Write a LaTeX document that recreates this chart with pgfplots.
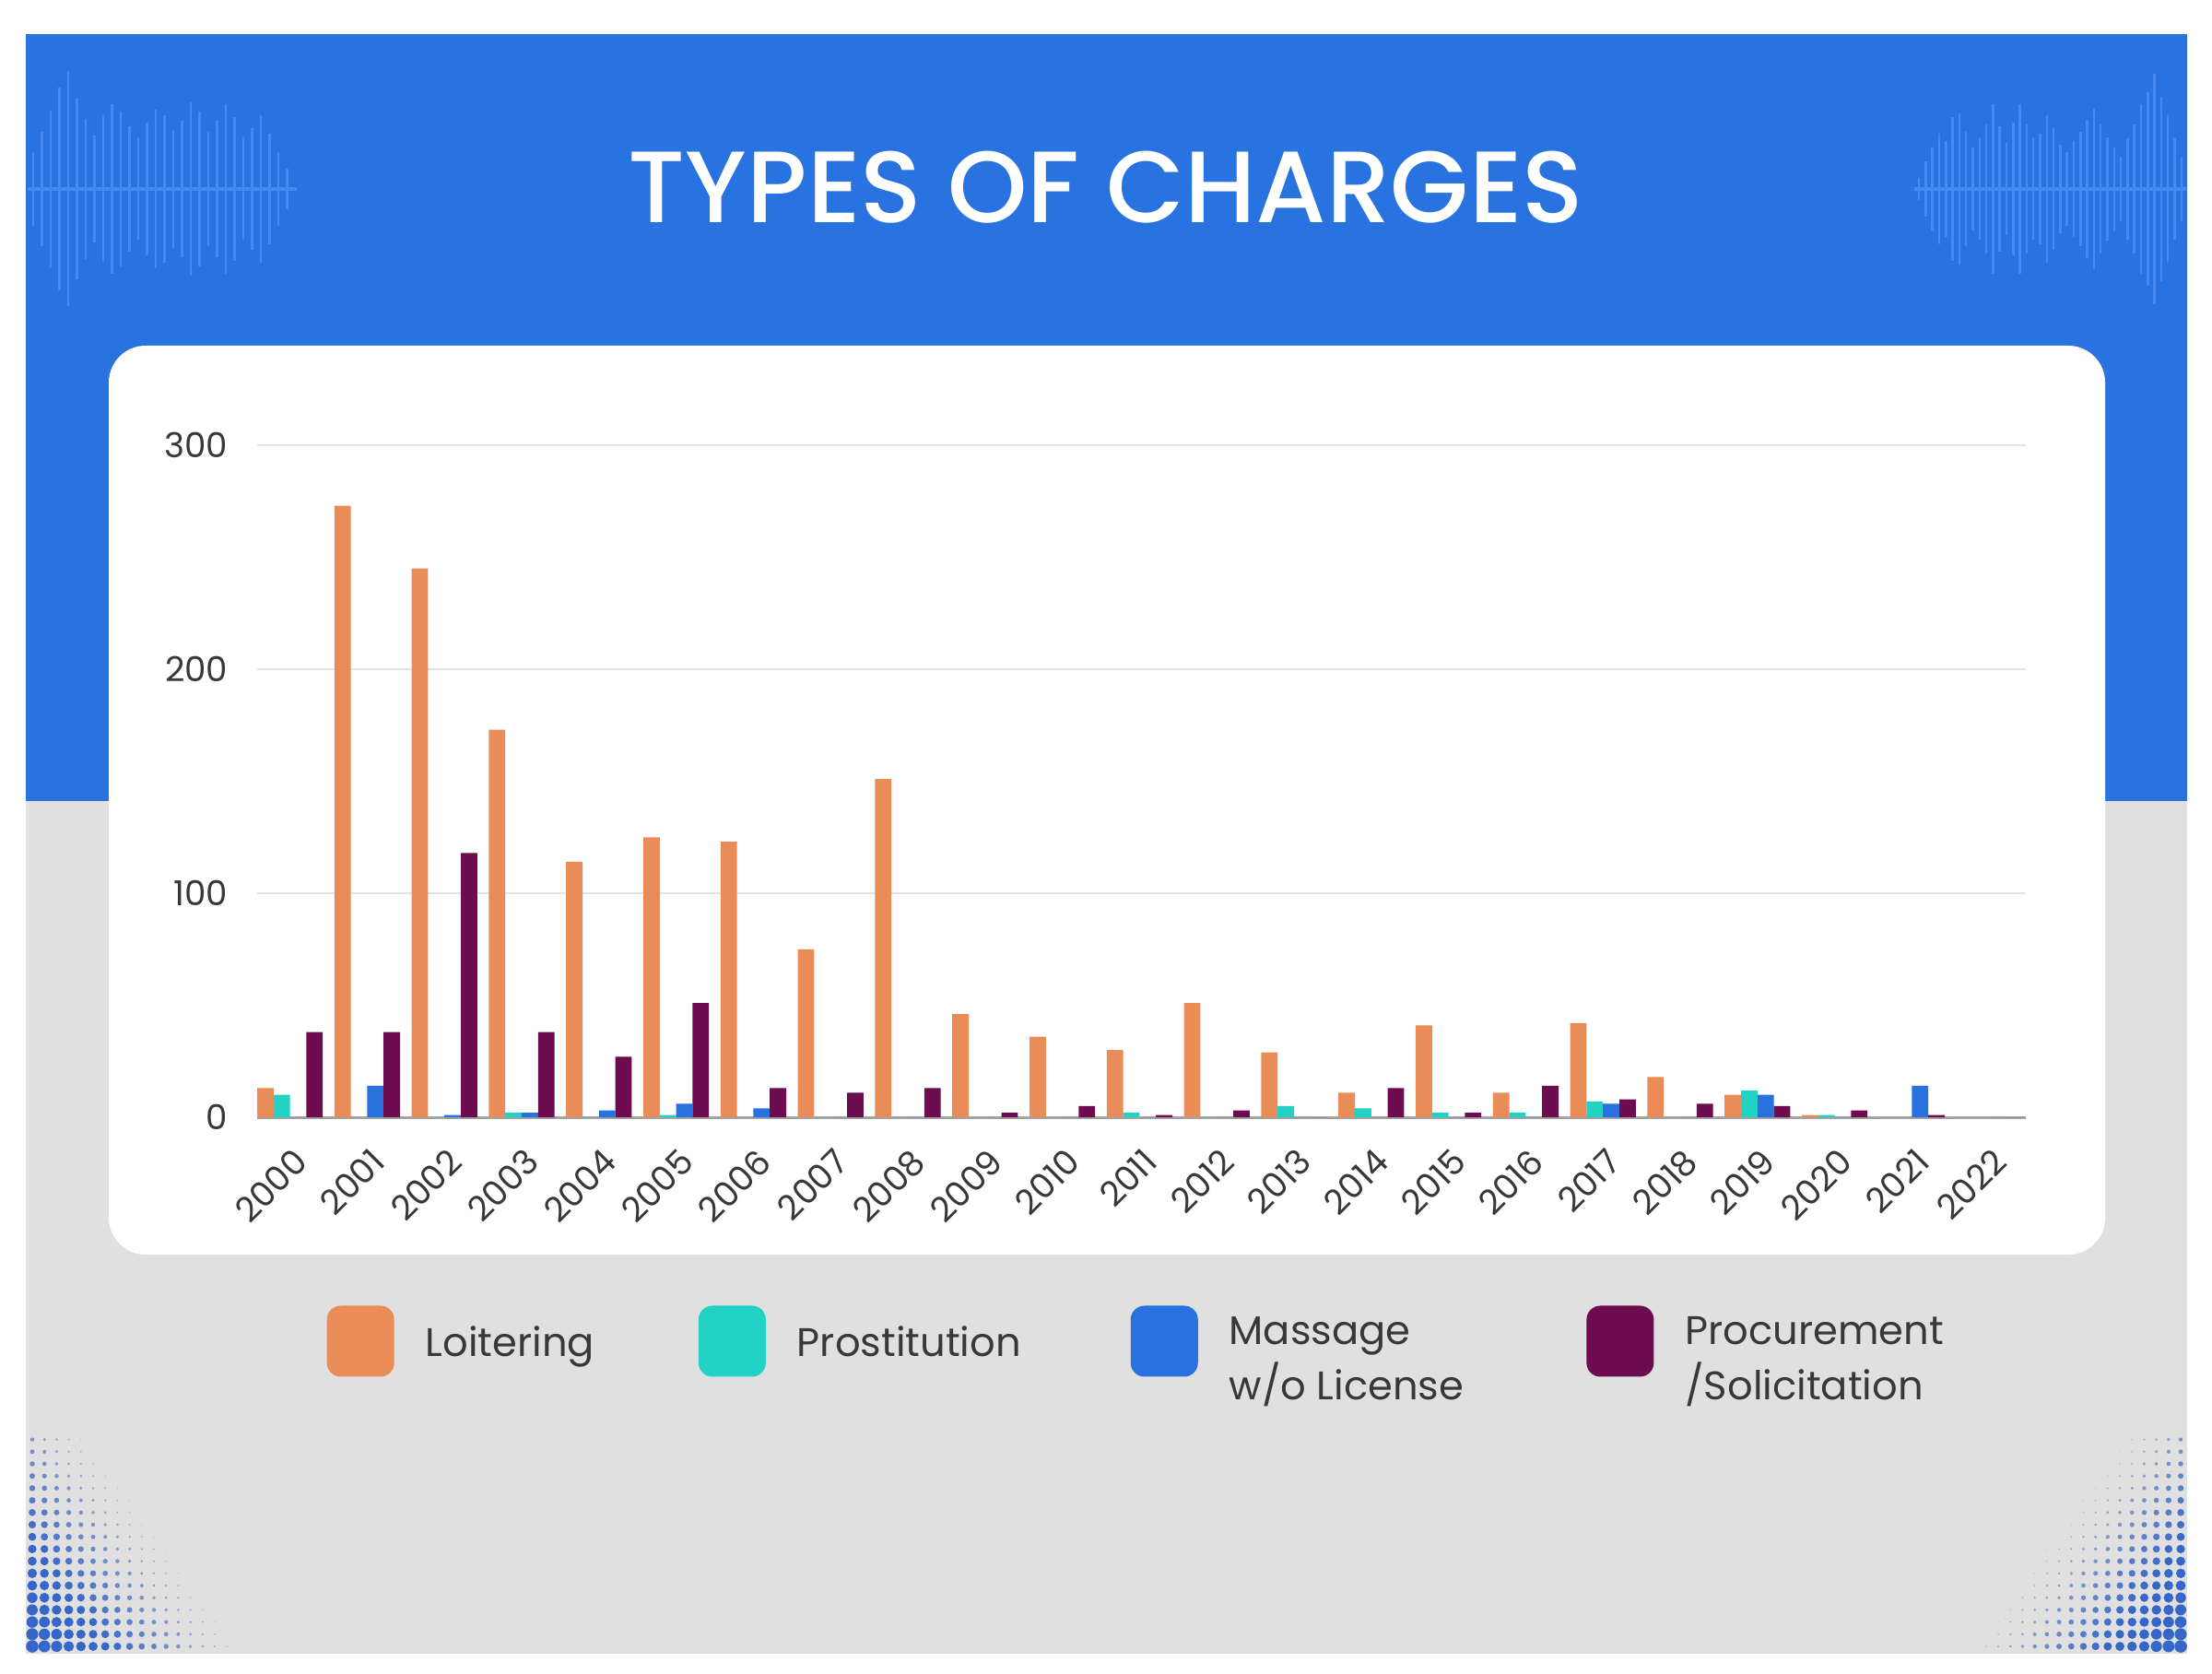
\documentclass[border=0pt]{standalone}
\usepackage{fontspec}
\setmainfont{Poppins}
\newfontfamily\titlefont{Poppins Medium}
\usepackage{pgfplots}
\usepackage{pgfplotstable}
\pgfplotsset{compat=1.18}

\definecolor{bgblue}{HTML}{2873E0}
\definecolor{waveblue}{HTML}{4A8DF6}
\definecolor{bggrey}{HTML}{E0E0E0}
\definecolor{cOrange}{HTML}{EA8C57}
\definecolor{cTeal}{HTML}{22D2C4}
\definecolor{cBlue}{HTML}{2871DE}
\definecolor{cPurple}{HTML}{6D0C4F}
\definecolor{txt}{HTML}{383838}
\definecolor{gridc}{HTML}{E3E3E3}
\definecolor{axisc}{HTML}{A3A3A3}
\definecolor{dotblue}{HTML}{3566C8}
\definecolor{dotgrey}{HTML}{BCC2CD}

\newcommand\tickfont{\fontsize{10.6}{12}\selectfont}
\newcommand\legfont{\fontsize{12.3}{16.9}\selectfont}

\pgfplotsset{myleg/.style={legend image code/.code={%
  \path[##1, draw=none, rounded corners=1.5mm] (0mm,-3.85mm) rectangle (7.3mm,3.85mm);}}}

\pgfplotstableread{
k year loit prost mass proc
0 2000 13 10 0 38
1 2001 273 0 14 38
2 2002 245 0 1 118
3 2003 173 2 2 38
4 2004 114 0 3 27
5 2005 125 1 6 51
6 2006 123 0 4 13
7 2007 75 0 0 11
8 2008 151 0 0 13
9 2009 46 0 0 2
10 2010 36 0 0 5
11 2011 30 2 0 1
12 2012 51 0 0 3
13 2013 29 5 0 0
14 2014 11 4 0 13
15 2015 41 2 0 2
16 2016 11 2 0 14
17 2017 42 7 6 8
18 2018 18 0 0 6
19 2019 10 12 10 5
20 2020 1 1 0 3
21 2021 0 0 14 1
22 2022 0 0 0 0
}\datatable

\begin{document}
\begin{tikzpicture}
\fill[white] (0,0) rectangle (240mm,181.5mm);
\begin{scope}[shift={(0,181.5mm)}, x=0.1mm, y=-0.1mm]
  \fill[bgblue] (28,37) rectangle (2373,869);
  \fill[bggrey] (28,869) rectangle (2373,1794);
  % left sound wave
  \foreach \h [count=\n from 0] in {40,62,85,110,127,98,76,58,80,92,84,68,55,72,86,80,64,74,94,84,62,74,92,78,56,66,80,60,40,22}
    {\draw[waveblue!85!bgblue, line width=0.25mm] ({36+9.5*\n},{205-\h}) -- ({36+9.5*\n},{205+\h});}
  \draw[waveblue!85!bgblue, line width=0.45mm] (30,205) -- (322,205);
  % right sound wave
  \foreach \h [count=\n from 0] in {12,30,45,60,52,78,82,62,45,55,70,92,68,50,72,92,70,55,60,80,66,48,40,52,62,75,87,70,56,45,35,55,70,92,105,125,100,80,55,35}
    {\draw[waveblue!85!bgblue, line width=0.25mm] ({2082+7.3*\n},{205-\h}) -- ({2082+7.3*\n},{205+\h});}
  \draw[waveblue!85!bgblue, line width=0.45mm] (2077,205) -- (2372,205);
  % halftone dots
  \foreach \i in {0,...,17}{\foreach \j in {0,...,17}{%
    \pgfmathsetmacro\f{1-\i/18-\j/25}%
    \ifdim\f pt>0.04pt
      \pgfmathsetmacro\r{6.8*\f}%
      \pgfmathsetmacro\c{min(100,max(0,150*\f))}%
      \fill[dotblue!\c!dotgrey] ({35+13.2*\i},{1786-13.2*\j}) circle[radius=\r];
      \fill[dotblue!\c!dotgrey] ({2366-13.2*\i},{1786-13.2*\j}) circle[radius=\r];
    \fi}}
  % card
  \fill[white, rounded corners=4mm] (118,375) rectangle (2284,1361);
  % title
  \node[text=white, inner sep=0pt, font=\titlefont\fontsize{31.3}{38}\selectfont] at (1200,203) {TYPES OF CHARGES};
\end{scope}

\begin{axis}[
  at={(27.9mm,60.3mm)}, anchor=south west, scale only axis,
  width=191.9mm, height=72.9mm,
  xmin=-0.425, xmax=22.475, ymin=0, ymax=300,
  ybar, bar width=0.2124,
  axis x line*=bottom, axis y line*=left,
  x axis line style={draw=axisc, line width=0.3mm, -},
  y axis line style={draw=none},
  ymajorgrids, major grid style={draw=gridc, line width=0.2mm},
  xtick={0,...,22},
  xticklabels={2000,2001,2002,2003,2004,2005,2006,2007,2008,2009,2010,2011,2012,2013,2014,2015,2016,2017,2018,2019,2020,2021,2022},
  ytick={0,100,200,300},
  major tick length=0pt, tick style={draw=none},
  /pgf/number format/assume math mode=true,
  ticklabel style={font=\tickfont, text=txt},
  yticklabel style={anchor=east, inner sep=0pt, xshift=-3.1mm},
  xticklabel style={inner sep=0pt, xshift=0.2mm, yshift=-3.1mm, rotate=45, anchor=north east},
  legend columns=4, legend cell align=left,
  legend style={at={(0.0391,-0.3333)}, anchor=west, draw=none, fill=none, inner sep=0pt,
    font=\legfont, text=txt, cells={anchor=west, align=left},
    nodes={inner sep=0pt, text depth=0pt},
    /tikz/every odd column/.append style={column sep=3.4mm},
    /tikz/column 2/.style={column sep=11.3mm},
    /tikz/column 4/.style={column sep=11.9mm},
    /tikz/column 6/.style={column sep=13.3mm}},
]
\addplot[fill=cOrange, draw=none, bar shift=-0.3186, myleg] table[x=k, y=loit]{\datatable};
\addlegendentry{Loitering}
\addplot[fill=cTeal, draw=none, bar shift=-0.1062, myleg] table[x=k, y=prost]{\datatable};
\addlegendentry{Prostitution}
\addplot[fill=cBlue, draw=none, bar shift=0.1062, myleg] table[x=k, y=mass]{\datatable};
\addlegendentry{\rule{0pt}{1.55em}Massage\\w/o License}
\addplot[fill=cPurple, draw=none, bar shift=0.3186, myleg] table[x=k, y=proc]{\datatable};
\addlegendentry{\rule{0pt}{1.55em}Procurement\\/Solicitation}
\end{axis}
\pgfresetboundingbox
\path[use as bounding box] (0,0) rectangle (240mm,181.5mm);
\end{tikzpicture}
\end{document}
